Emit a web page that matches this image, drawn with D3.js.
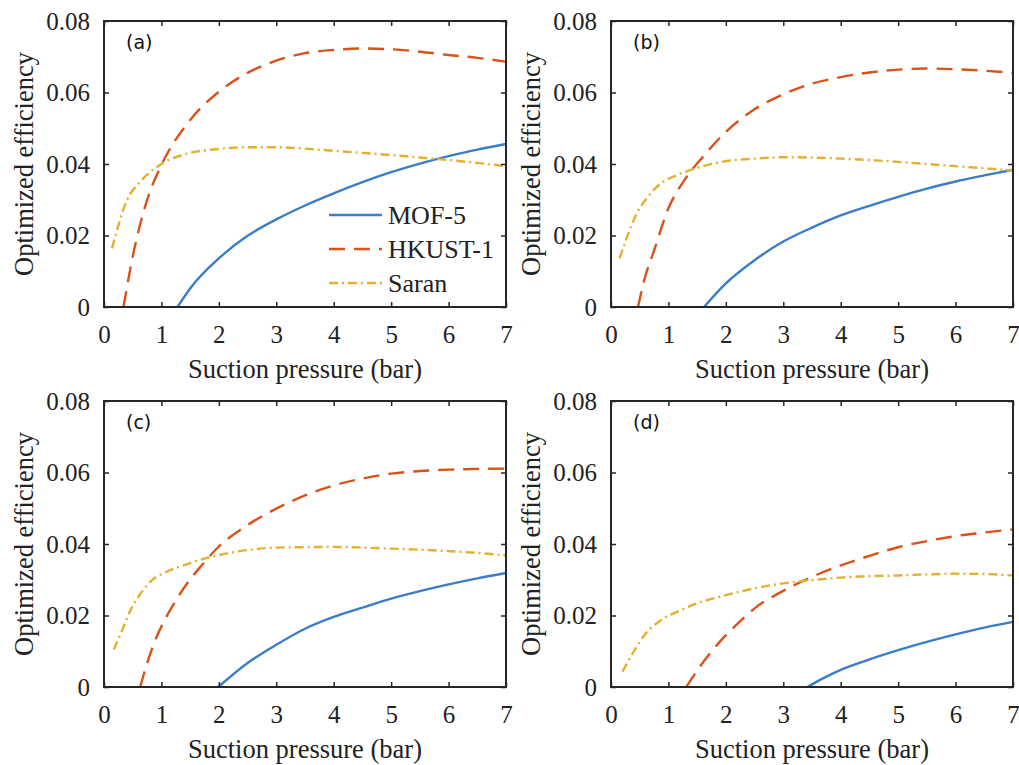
<!DOCTYPE html>
<html>
<head>
<meta charset="utf-8">
<script src="https://cdn.jsdelivr.net/npm/d3@7"></script>
<style>
  body { margin: 0; background: #fff; }
  svg { display: block; }
</style>
</head>
<body>
<svg id="chart" width="1019" height="765"></svg>
<script>
/* tick labels */
var xTicks = [0, 1, 2, 3, 4, 5, 6, 7],
    yTicks = [0, 0.02, 0.04, 0.06, 0.08],
    panelNames = ["(a)", "(b)", "(c)", "(d)"],
    seriesNames = ["MOF-5", "HKUST-1", "Saran"];

/* panel (a) */
var aMofX   = [1.28, 1.5, 2, 2.5, 3, 3.5, 4, 4.5, 5, 5.5, 6, 6.5, 7],
    aMofY   = [0, 0.0052, 0.0136, 0.0199, 0.0245, 0.0284, 0.0318, 0.0349, 0.0377, 0.0401, 0.0422, 0.044, 0.0456],
    aHkX    = [0.34, 0.5, 0.75, 1, 1.5, 2, 2.5, 3, 3.5, 4, 4.5, 5, 5.5, 6, 6.5, 7],
    aHkY    = [0, 0.0141, 0.0299, 0.0397, 0.0523, 0.0602, 0.0655, 0.0689, 0.071, 0.0719, 0.0723, 0.0721, 0.0714, 0.0705, 0.0697, 0.0686],
    aSarX   = [0.14, 0.4, 0.63, 1, 1.5, 2, 2.5, 3, 3.5, 4, 4.5, 5, 5.5, 6, 6.5, 7],
    aSarY   = [0.0164, 0.0299, 0.035, 0.040, 0.0431, 0.0442, 0.0447, 0.0447, 0.0443, 0.0437, 0.0431, 0.0425, 0.0418, 0.0411, 0.0403, 0.0394];

/* panel (b) */
var bMofX   = [1.62, 2, 2.5, 3, 3.5, 4, 4.5, 5, 5.5, 6, 6.5, 7],
    bMofY   = [0, 0.0066, 0.0131, 0.0183, 0.0222, 0.0256, 0.0283, 0.0308, 0.0331, 0.0351, 0.0368, 0.0384],
    bHkX    = [0.47, 0.58, 0.75, 1, 1.3, 1.6, 2, 2.5, 3, 3.5, 4, 4.5, 5, 5.5, 6, 6.5, 7],
    bHkY    = [0, 0.0076, 0.0158, 0.0276, 0.036, 0.042, 0.049, 0.0553, 0.0595, 0.0625, 0.0643, 0.0656, 0.0664, 0.0667, 0.0665, 0.0661, 0.0655],
    bSarX   = [0.15, 0.25, 0.45, 0.65, 0.87, 1.15, 1.5, 2, 2.5, 3, 3.5, 4, 4.5, 5, 5.5, 6, 6.5, 7],
    bSarY   = [0.0136, 0.0183, 0.0262, 0.031, 0.0346, 0.0369, 0.0389, 0.0408, 0.0415, 0.0419, 0.0418, 0.0415, 0.0411, 0.0406, 0.04, 0.0394, 0.0388, 0.0382];

/* panel (c) */
var cMofX   = [1.99, 2.5, 3, 3.5, 4, 4.5, 5, 5.5, 6, 6.5, 7],
    cMofY   = [0, 0.0067, 0.0118, 0.0163, 0.0196, 0.0222, 0.0247, 0.0268, 0.0287, 0.0304, 0.0319],
    cHkX    = [0.63, 0.75, 0.87, 1.02, 1.2, 1.4, 1.7, 2, 2.5, 3, 3.5, 4, 4.5, 5, 5.5, 6, 6.5, 7],
    cHkY    = [0, 0.0066, 0.0122, 0.0176, 0.0228, 0.0279, 0.034, 0.0393, 0.0453, 0.0499, 0.0536, 0.0564, 0.0583, 0.0597, 0.0604, 0.0608, 0.061, 0.0611],
    cSarX   = [0.17, 0.32, 0.46, 0.64, 0.81, 1.1, 1.4, 1.7, 2, 2.5, 3, 3.5, 4, 4.5, 5, 5.5, 6, 6.5, 7],
    cSarY   = [0.0105, 0.016, 0.0215, 0.0262, 0.0295, 0.0323, 0.0341, 0.0357, 0.0369, 0.0383, 0.039, 0.0391, 0.0392, 0.039, 0.0387, 0.0384, 0.038, 0.0375, 0.0368];

/* panel (d) */
var dMofX   = [3.42, 3.7, 4, 4.5, 5, 5.5, 6, 6.5, 7],
    dMofY   = [0, 0.0025, 0.0048, 0.0077, 0.0103, 0.0126, 0.0147, 0.0166, 0.0182],
    dHkX    = [1.31, 1.57, 1.92, 2.21, 2.5, 3, 3.5, 4, 4.5, 5, 5.5, 6, 6.5, 7],
    dHkY    = [0, 0.0062, 0.0131, 0.0178, 0.022, 0.0269, 0.0308, 0.034, 0.0367, 0.0391, 0.0408, 0.0422, 0.0432, 0.0441],
    dSarX   = [0.2, 0.41, 0.58, 0.87, 1.16, 1.5, 2, 2.5, 3, 3.5, 4, 4.5, 5, 5.5, 6, 6.5, 7],
    dSarY   = [0.0043, 0.0103, 0.0145, 0.0187, 0.0211, 0.0234, 0.0257, 0.0276, 0.029, 0.0299, 0.0306, 0.031, 0.0312, 0.0315, 0.0317, 0.0316, 0.0312];

(function( ) {

"use strict";

var svg = d3.select("#chart"),
    W = 402, H = 286,
    frame = "#262626",
    colors = ["#3b7dc8", "#d95319", "#e5b02f"],
    dashes = [null, "16,9", "9,4,2,4"],
    serif = "'Liberation Serif','Times New Roman',serif",
    sans = "'DejaVu Sans',Verdana,sans-serif",
    fsTick = 25, fsTitle = 26.5, fsLegend = 26,

    panels = [
        { x: 104, y: 21,  name: panelNames[0], legend: true,
          series: [[aMofX, aMofY], [aHkX, aHkY], [aSarX, aSarY]] },
        { x: 611, y: 21,  name: panelNames[1],
          series: [[bMofX, bMofY], [bHkX, bHkY], [bSarX, bSarY]] },
        { x: 104, y: 401, name: panelNames[2],
          series: [[cMofX, cMofY], [cHkX, cHkY], [cSarX, cSarY]] },
        { x: 611, y: 401, name: panelNames[3],
          series: [[dMofX, dMofY], [dHkX, dHkY], [dSarX, dSarY]] }
    ],

    x = d3.scaleLinear().domain([0, 7]).range([0, W]),
    y = d3.scaleLinear().domain([0, 0.08]).range([H, 0]),
    xFmt = d3.format("d"),
    yFmt = function( d ){ return d === 0 ? "0" : d3.format(".2f")(d); },

    /* _styleAxis
     * shared look for every axis group
    */
    _styleAxis = function( g, labels ) {
        g.attr("font-family", serif).attr("font-size", fsTick);
        g.select(".domain").remove();
        g.selectAll(".tick line").attr("stroke", frame).attr("stroke-width", 1.5);
        g.selectAll(".tick text").attr("fill", "#222");
        if( !labels ){ g.selectAll(".tick text").remove(); }
    },

    /* _drawPanel
     * one subplot with its axes, curves and label
    */
    _drawPanel = function( p ) {
        var g = svg.append("g").attr("transform", "translate(" + p.x + "," + p.y + ")");

        var line = d3.line()
            .x(function( d ){ return x(d[0]); })
            .y(function( d ){ return y(d[1]); })
            .curve(d3.curveMonotoneX);

        p.series.forEach(function( s, i ) {
            var pts = s[0].map(function( v, k ){ return [v, s[1][k]]; });
            g.append("path")
                .datum(pts)
                .attr("d", line)
                .attr("fill", "none")
                .attr("stroke", colors[i])
                .attr("stroke-width", 2.4)
                .attr("stroke-dasharray", dashes[i]);
        });

        /* axes, ticks pointing in */
        g.append("g").attr("transform", "translate(0," + H + ")")
            .call(d3.axisBottom(x).tickValues(xTicks).tickFormat(xFmt).tickSizeInner(-5).tickSizeOuter(0).tickPadding(18))
            .call(_styleAxis, true);
        g.append("g")
            .call(d3.axisTop(x).tickValues(xTicks).tickSizeInner(-5).tickSizeOuter(0))
            .call(_styleAxis, false);
        g.append("g")
            .call(d3.axisLeft(y).tickValues(yTicks).tickFormat(yFmt).tickSizeInner(-5).tickSizeOuter(0).tickPadding(14))
            .call(_styleAxis, true);
        g.append("g").attr("transform", "translate(" + W + ",0)")
            .call(d3.axisRight(y).tickValues(yTicks).tickSizeInner(-5).tickSizeOuter(0))
            .call(_styleAxis, false);

        g.append("rect")
            .attr("width", W).attr("height", H)
            .attr("fill", "none")
            .attr("stroke", frame)
            .attr("stroke-width", 2);

        /* titles */
        g.append("text")
            .attr("x", W / 2).attr("y", H + 71)
            .attr("text-anchor", "middle")
            .attr("fill", "#222")
            .attr("font-family", serif).attr("font-size", fsTitle)
            .text("Suction pressure (bar)");

        g.append("text")
            .attr("transform", "translate(-71," + (H / 2) + ") rotate(-90)")
            .attr("text-anchor", "middle")
            .attr("fill", "#222")
            .attr("font-family", serif).attr("font-size", fsTitle)
            .text("Optimized efficiency");

        g.append("text")
            .attr("x", 22).attr("y", 28)
            .attr("fill", "#111")
            .attr("font-family", sans).attr("font-size", 19)
            .text(p.name);

        if( p.legend ){
            seriesNames.forEach(function( n, i ) {
                var ly = 194 + i * 34;
                g.append("line")
                    .attr("x1", 225).attr("x2", 278)
                    .attr("y1", ly).attr("y2", ly)
                    .attr("stroke", colors[i])
                    .attr("stroke-width", 2.4)
                    .attr("stroke-dasharray", dashes[i]);
                g.append("text")
                    .attr("x", 284).attr("y", ly + 9)
                    .attr("fill", "#222")
                    .attr("font-family", serif).attr("font-size", fsLegend)
                    .text(n);
            });
        }
    };

panels.forEach(_drawPanel);

})( );
</script>
</body>
</html>
